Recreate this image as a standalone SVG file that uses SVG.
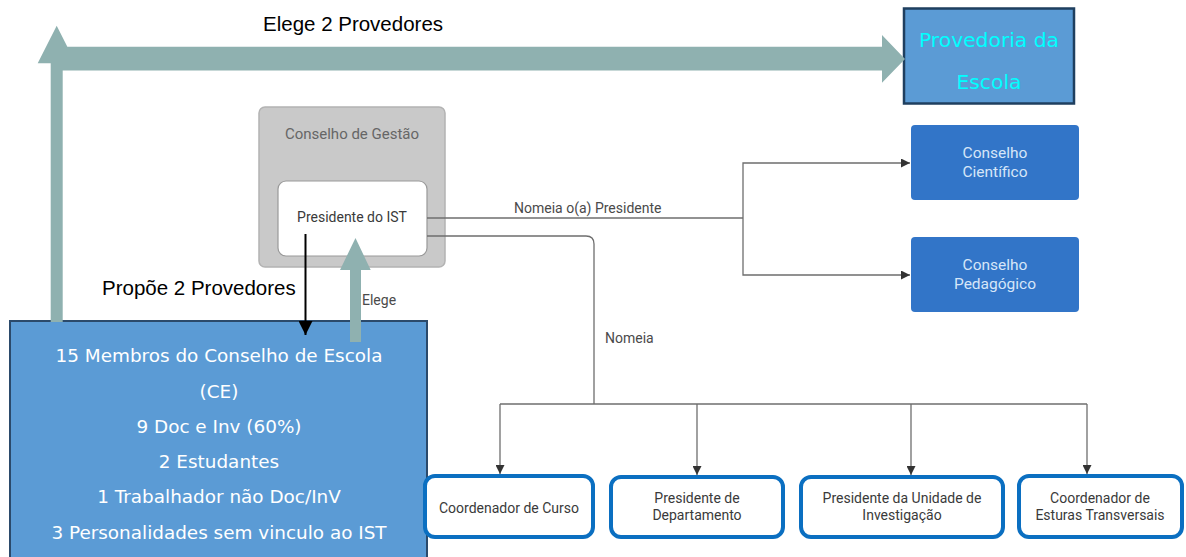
<svg xmlns="http://www.w3.org/2000/svg" width="1186" height="557" viewBox="0 0 1186 557">
<defs>
<style>
.teal{fill:#8fb1b0}
.conn{fill:none;stroke:#6e6e6e;stroke-width:1.3}
.lbl{font-family:Roboto,"DejaVu Sans",sans-serif;font-size:14px;fill:#4a4a4a}
.cal{font-family:"Liberation Sans",Arial,sans-serif;font-size:20.5px;fill:#000}
.ce{font-family:"DejaVu Sans",Verdana,sans-serif;font-size:18.4px;fill:#fff;text-anchor:middle}
.blue{fill:#3275c8}
.bt{font-family:Roboto,"DejaVu Sans",sans-serif;font-size:15.5px;fill:#d6e6f8;text-anchor:middle}
.wb{fill:#fff;stroke:#0b6fc1;stroke-width:4}
.wt{font-family:Roboto,"DejaVu Sans",sans-serif;font-size:14px;fill:#3a3a3a;text-anchor:middle}
</style>
<marker id="ah" viewBox="0 0 10 10" refX="10" refY="5" markerWidth="12" markerHeight="9" markerUnits="userSpaceOnUse" orient="auto"><path d="M0,0 L10,5 L0,10 z" fill="#333"/></marker>
<marker id="bk" viewBox="0 0 10 10" refX="10" refY="5" markerWidth="15" markerHeight="14" markerUnits="userSpaceOnUse" orient="auto"><path d="M0,0 L10,5 L0,10 z" fill="#000"/></marker>
</defs>

<g id="provedoria">
<rect x="904" y="8.5" width="170" height="95" fill="#5b9bd5" stroke="#1f3f5f" stroke-width="2.5"/>
<text x="989" y="47" font-family="'DejaVu Sans',Verdana,sans-serif" font-size="20.3" fill="#00ffff" text-anchor="middle">Provedoria da</text>
<text x="989" y="89" font-family="'DejaVu Sans',Verdana,sans-serif" font-size="20.3" fill="#00ffff" text-anchor="middle">Escola</text>
</g>

<g id="conselho-gestao">
<rect x="259" y="107" width="186" height="160" rx="6" fill="#c9c9c9" stroke="#b3b3b3" stroke-width="1.5"/>
<text x="352" y="139" font-family="Roboto,'DejaVu Sans',sans-serif" font-size="15" fill="#666" text-anchor="middle">Conselho de Gestão</text>
</g>

<g id="presidente-ist">
<rect x="278" y="181" width="149" height="75" rx="8" fill="#fff" stroke="#999" stroke-width="1.2"/>
<text x="352" y="222" class="wt" fill="#444">Presidente do IST</text>
</g>

<g id="conselho-cientifico">
<rect x="911" y="125" width="168" height="75" rx="4" class="blue"/>
<text x="995" y="158" class="bt">Conselho</text>
<text x="995" y="177" class="bt">Científico</text>
</g>

<g id="conselho-pedagogico">
<rect x="911" y="237" width="168" height="75" rx="4" class="blue"/>
<text x="995" y="270" class="bt">Conselho</text>
<text x="995" y="289" class="bt">Pedagógico</text>
</g>

<g id="conselho-escola">
<rect x="10" y="321" width="417" height="245" fill="#5b9bd5" stroke="#2b4a6b" stroke-width="2"/>
<text x="219" y="362" class="ce">15 Membros do Conselho de Escola</text>
<text x="219" y="398" class="ce">(CE)</text>
<text x="219" y="433" class="ce">9 Doc e Inv (60%)</text>
<text x="219" y="468" class="ce">2 Estudantes</text>
<text x="219" y="503" class="ce">1 Trabalhador não Doc/InV</text>
<text x="219" y="539" class="ce">3 Personalidades sem vinculo ao IST</text>
</g>

<g id="coordenador-curso">
<rect x="425" y="476" width="168" height="61" rx="10" class="wb"/>
<text x="509" y="513" class="wt">Coordenador de Curso</text>
</g>
<g id="presidente-departamento">
<rect x="611" y="477" width="172" height="60" rx="10" class="wb"/>
<text x="697" y="503" class="wt">Presidente de</text>
<text x="697" y="520" class="wt">Departamento</text>
</g>
<g id="presidente-unidade">
<rect x="801" y="477" width="202" height="60" rx="10" class="wb"/>
<text x="902" y="503" class="wt">Presidente da Unidade de</text>
<text x="902" y="520" class="wt">Investigação</text>
</g>
<g id="coordenador-estruturas">
<rect x="1019" y="476" width="163" height="61" rx="10" class="wb"/>
<text x="1100" y="503" class="wt">Coordenador de</text>
<text x="1100" y="520" class="wt">Esturas Transversais</text>
</g>

<g id="connectors">
<path class="teal" d="M56.7,25.7 L75.7,63.3 L66.7,63.3 L66.7,46.7 L882,46.7 L882,35 L905,59 L882,82.7 L882,70.5 L62.7,70.5 L62.7,322 L50.7,322 L50.7,63.3 L37.7,63.3 Z"/>
<text x="263" y="31" class="cal">Elege 2 Provedores</text>

<path class="teal" d="M355.5,238 L370.7,270 L361,270 L361,342 L350,342 L350,270 L340,270 Z"/>
<text x="362" y="305" class="lbl" font-size="13">Elege</text>

<line x1="305.5" y1="234" x2="305.5" y2="335" stroke="#000" stroke-width="2" marker-end="url(#bk)"/>
<text x="102" y="295" class="cal">Propõe 2 Provedores</text>

<path class="conn" d="M427,218 H743"/>
<path class="conn" d="M743,218 V163 H910" marker-end="url(#ah)"/>
<path class="conn" d="M743,218 V275 H910" marker-end="url(#ah)"/>
<text x="514" y="213" class="lbl">Nomeia o(a) Presidente</text>

<path class="conn" d="M427,236 H586 Q594,236 594,244 V404"/>
<text x="605" y="343" class="lbl">Nomeia</text>
<path class="conn" d="M500,404 H1087"/>
<path class="conn" d="M500,404 V474" marker-end="url(#ah)"/>
<path class="conn" d="M697,404 V475" marker-end="url(#ah)"/>
<path class="conn" d="M911,404 V475" marker-end="url(#ah)"/>
<path class="conn" d="M1087,404 V474" marker-end="url(#ah)"/>
</g>
</svg>
